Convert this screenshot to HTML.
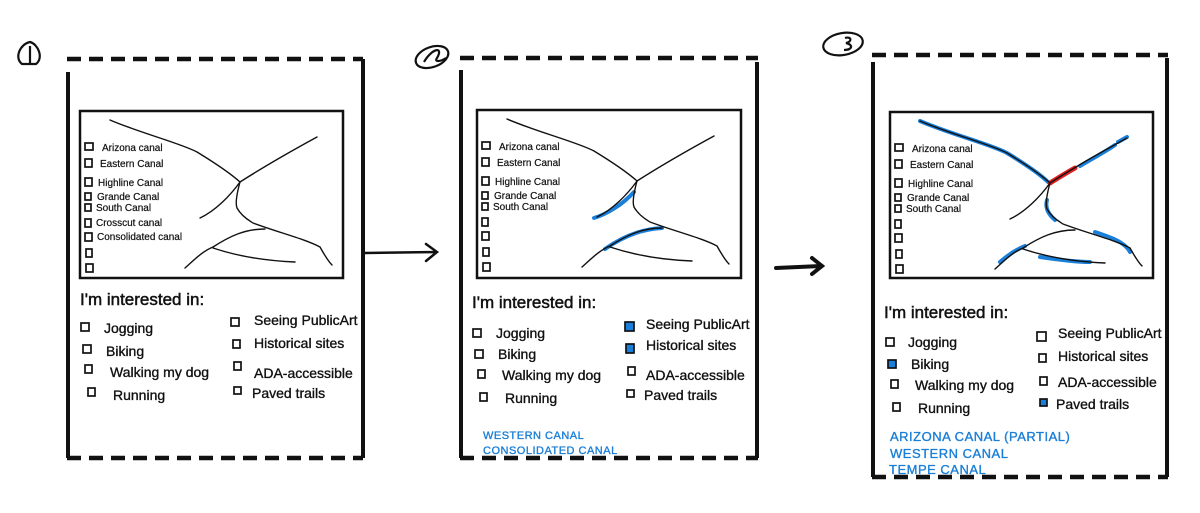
<!DOCTYPE html>
<html><head><meta charset="utf-8"><style>
html,body{margin:0;padding:0;background:#fff;}
svg{display:block;}
text{font-family:"Liberation Sans",sans-serif;fill:#111;stroke:#111;stroke-width:0.35px;}
.ml{font-size:10px;stroke-width:0.2px;}
.h{font-size:17px;stroke-width:0.5px;}
.o{font-size:14px;}
.b{fill:#1a7fd8;stroke:#1a7fd8;font-size:12px;letter-spacing:0.5px;}
</style></head><body>
<svg width="1200" height="513" viewBox="0 0 1200 513" xmlns="http://www.w3.org/2000/svg">
<defs>
<g id="curves" fill="none" stroke="#111" stroke-width="1.4" stroke-linecap="round">
<path d="M30,9 C60,22 100,32 117,41 C135,52 150,62 160,71"/>
<path d="M160,71 C185,55 215,38 237,26"/>
<path d="M160,71 C157,82 155,92 157,97 C162,106 170,110 173,112 C200,122 225,128 240,136 C245,145 248,150 252,154"/>
<path d="M160,71 C150,85 135,100 120,107"/>
<path d="M105,157 C115,148 123,140 133,136 C150,125 165,118 185,118"/>
<path d="M133,137 C160,146 190,150 215,151"/>
</g>
<g id="boxes" fill="none" stroke="#111" stroke-width="1.7">
<rect x="5" y="32" width="8" height="7"/>
<rect x="5" y="48" width="7" height="8"/>
<rect x="5" y="67" width="7" height="8"/>
<rect x="5" y="82" width="6" height="7"/>
<rect x="5" y="93" width="6" height="7"/>
<rect x="5" y="108" width="6" height="8"/>
<rect x="5" y="122" width="7" height="8"/>
<rect x="6" y="138" width="6" height="8"/>
<rect x="6" y="153" width="7" height="8"/>
</g>
</defs>

<g fill="none" stroke="#111" stroke-width="2.2">
<path d="M22,64 C14,58 20,44 30,42 C38,44 44,58 36,64 Z"/><line x1="30" y1="46" x2="30" y2="63"/>
<ellipse cx="432" cy="57" rx="17" ry="10" transform="rotate(-20 432 57)"/>
<path d="M424,62 C432,48 444,46 437,58 C434,62 440,62 446,58"/>
<ellipse cx="843" cy="44" rx="20" ry="11" transform="rotate(-10 843 44)"/>
<path d="M845,38 C852,36 852,42 846,43 C854,45 852,50 844,50"/>
</g>

<g stroke="#111" fill="none">
<g stroke-width="4.5" stroke-dasharray="14 8">
<line x1="67" y1="59" x2="363" y2="59"/><line x1="67" y1="458" x2="363" y2="458"/>
<line x1="460" y1="58" x2="758" y2="58"/><line x1="460" y1="458" x2="758" y2="458"/>
<line x1="872" y1="55" x2="1168" y2="55"/><line x1="872" y1="477" x2="1168" y2="477"/>
</g>
<g stroke-width="4">
<line x1="68" y1="72" x2="68" y2="458"/><line x1="363" y1="59" x2="363" y2="458"/>
<line x1="461" y1="70" x2="461" y2="458"/><line x1="757" y1="62" x2="757" y2="458"/>
<line x1="873" y1="62" x2="873" y2="477"/><line x1="1167" y1="58" x2="1167" y2="477"/>
</g>
<path d="M365,253 L436,252 M426,244 L437,252 L426,261" stroke-width="2.5" stroke-linecap="round"/>
<path d="M776,268 L821,266 M812,258 L822,266 L812,274" stroke-width="4" stroke-linecap="round"/>
</g>

<rect x="80" y="111" width="263" height="167" fill="none" stroke="#111" stroke-width="2.5"/>
<g transform="translate(80,111)"><use href="#curves"/><use href="#boxes"/>
<text class="ml" x="22" y="40">Arizona canal</text><text class="ml" x="20" y="56">Eastern Canal</text>
<text class="ml" x="18" y="75">Highline Canal</text><text class="ml" x="17" y="89">Grande Canal</text>
<text class="ml" x="16" y="100">South Canal</text><text class="ml" x="16" y="115">Crosscut canal</text>
<text class="ml" x="17" y="129">Consolidated canal</text></g>
<text class="h" x="80" y="305">I'm interested in:</text>
<g fill="none" stroke="#111" stroke-width="1.7">
<rect x="81" y="323" width="8" height="8"/><rect x="83" y="345" width="8" height="8"/><rect x="85" y="365" width="7" height="8"/><rect x="88" y="388" width="7" height="8"/>
<rect x="231" y="318" width="8" height="8"/><rect x="233" y="340" width="7" height="8"/><rect x="234" y="362" width="7" height="8"/><rect x="234" y="387" width="7" height="7"/></g>
<text class="o" x="104" y="333">Jogging</text><text class="o" x="106" y="356">Biking</text><text class="o" x="110" y="377">Walking my dog</text><text class="o" x="113" y="400">Running</text>
<text class="o" x="254" y="325">Seeing PublicArt</text><text class="o" x="254" y="348">Historical sites</text><text class="o" x="254" y="378">ADA-accessible</text><text class="o" x="252" y="398">Paved trails</text>

<rect x="477" y="110" width="264" height="168" fill="none" stroke="#111" stroke-width="2.5"/>
<g transform="translate(477,110)">
<g fill="none" stroke="#1a7fd8" stroke-width="4" stroke-linecap="round"><path d="M157,82 C145,95 130,104 117,108"/><path d="M128,139 C145,127 165,119 185,118"/></g>
<use href="#curves"/><use href="#boxes"/>
<text class="ml" x="22" y="40">Arizona canal</text><text class="ml" x="20" y="56">Eastern Canal</text>
<text class="ml" x="18" y="75">Highline Canal</text><text class="ml" x="17" y="89">Grande Canal</text>
<text class="ml" x="16" y="100">South Canal</text></g>
<text class="h" x="472" y="308">I'm interested in:</text>
<g fill="none" stroke="#111" stroke-width="1.7">
<rect x="473" y="329" width="8" height="8"/><rect x="475" y="350" width="8" height="8"/><rect x="478" y="370" width="7" height="8"/><rect x="480" y="393" width="7" height="8"/>
<rect x="625" y="322" width="9" height="9" fill="#1a7fd8"/><rect x="626" y="344" width="8" height="9" fill="#1a7fd8"/><rect x="628" y="367" width="7" height="8"/><rect x="627" y="390" width="7" height="7"/></g>
<text class="o" x="496" y="338">Jogging</text><text class="o" x="498" y="359">Biking</text><text class="o" x="502" y="380">Walking my dog</text><text class="o" x="505" y="403">Running</text>
<text class="o" x="646" y="329">Seeing PublicArt</text><text class="o" x="646" y="350">Historical sites</text><text class="o" x="646" y="380">ADA-accessible</text><text class="o" x="644" y="400">Paved trails</text>
<text class="b" x="483" y="439" style="font-size:11px">WESTERN CANAL</text>
<text class="b" x="483" y="454" style="font-size:11px">CONSOLIDATED CANAL</text>

<rect x="890" y="112" width="263" height="166" fill="none" stroke="#111" stroke-width="2.5"/>
<g transform="translate(890,112)">
<g fill="none" stroke="#1a7fd8" stroke-width="4" stroke-linecap="round">
<path d="M30,9 C60,22 100,32 117,41 C135,52 150,62 158,70"/>
<path d="M190,54 C205,45 215,40 225,33"/><path d="M228,30 L237,25"/>
<path d="M157,88 C155,95 158,102 165,108"/>
<path d="M110,150 C118,143 125,138 135,134"/><path d="M205,120 C220,125 235,130 240,140"/>
<path d="M150,145 C170,148 190,150 200,150"/>
</g>
<path d="M160,71 C168,66 176,61 185,56" stroke="#e02020" stroke-width="5" fill="none" stroke-linecap="round"/>
<use href="#curves"/><use href="#boxes"/>
<text class="ml" x="22" y="40">Arizona canal</text><text class="ml" x="20" y="56">Eastern Canal</text>
<text class="ml" x="18" y="75">Highline Canal</text><text class="ml" x="17" y="89">Grande Canal</text>
<text class="ml" x="16" y="100">South Canal</text></g>
<text class="h" x="884" y="318">I'm interested in:</text>
<g fill="none" stroke="#111" stroke-width="1.7">
<rect x="886" y="338" width="8" height="8"/><rect x="888" y="360" width="8" height="8" fill="#1a7fd8"/><rect x="891" y="380" width="7" height="8"/><rect x="893" y="403" width="7" height="8"/>
<rect x="1037" y="332" width="9" height="9"/><rect x="1039" y="354" width="7" height="8"/><rect x="1040" y="377" width="7" height="8"/><rect x="1040" y="399" width="7" height="7" fill="#1a7fd8"/></g>
<text class="o" x="908" y="347">Jogging</text><text class="o" x="911" y="369">Biking</text><text class="o" x="915" y="390">Walking my dog</text><text class="o" x="918" y="413">Running</text>
<text class="o" x="1058" y="338">Seeing PublicArt</text><text class="o" x="1058" y="361">Historical sites</text><text class="o" x="1058" y="387">ADA-accessible</text><text class="o" x="1056" y="409">Paved trails</text>
<text class="b" x="890" y="441" style="font-size:13px">ARIZONA CANAL (PARTIAL)</text>
<text class="b" x="890" y="458" style="font-size:13px">WESTERN CANAL</text>
<text class="b" x="889" y="474" style="font-size:13px">TEMPE CANAL</text>
</svg>
</body></html>
